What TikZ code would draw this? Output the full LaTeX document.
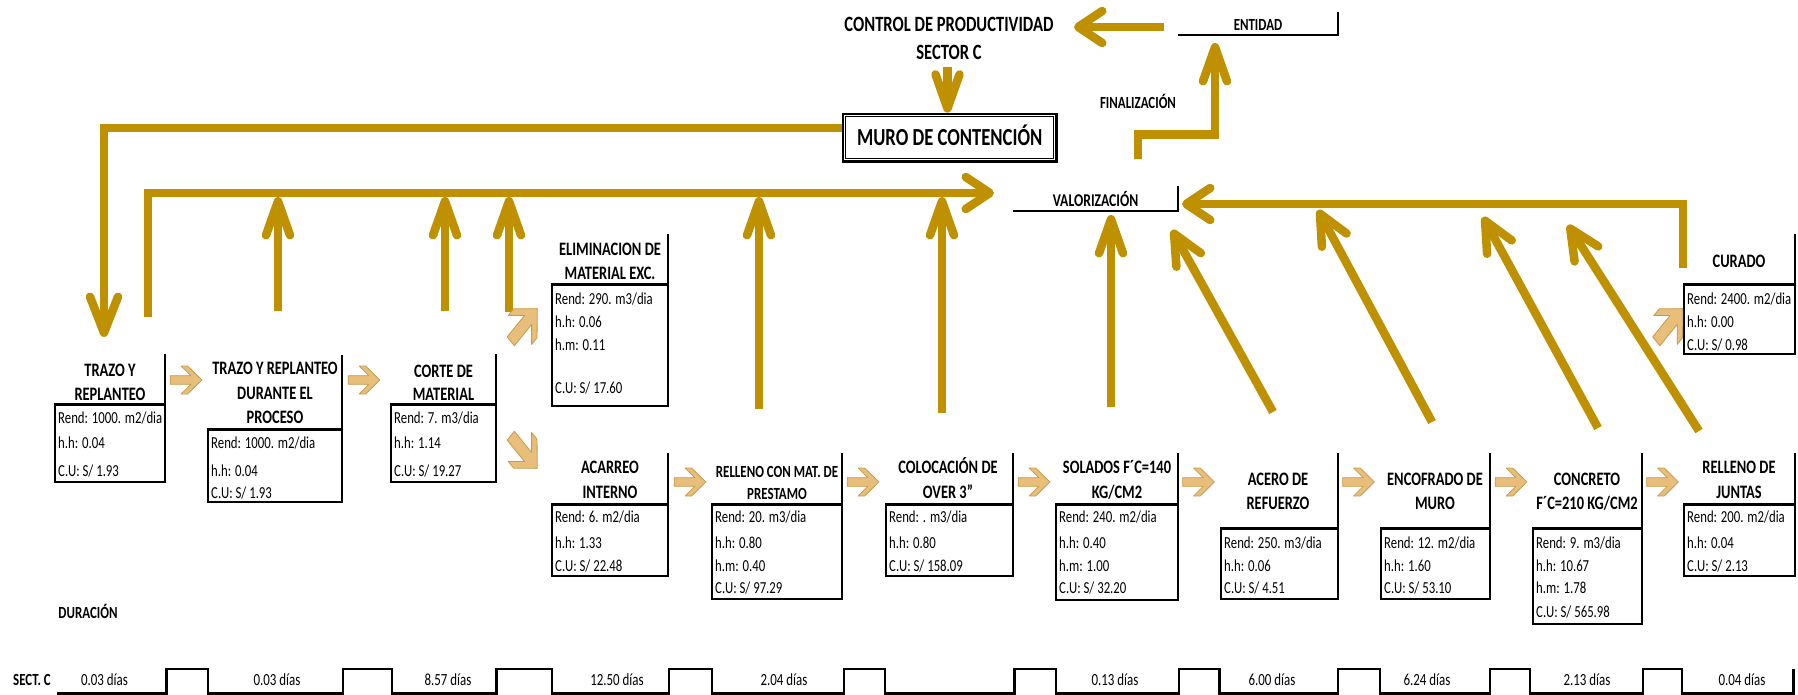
\documentclass[tikz,border=0pt]{standalone}
\usepackage{fontspec}
\setmainfont{Carlito}[FakeStretch=0.76]
\usetikzlibrary{arrows.meta}

\definecolor{gold}{HTML}{BF9000}
\definecolor{tanfill}{HTML}{E8BE7B}
\definecolor{tanedge}{HTML}{C99A4C}

\newcommand{\fbody}{\fontsize{16.8}{18}\selectfont}
\newcommand{\fhead}{\fontsize{19}{21}\selectfont\bfseries}
\newcommand{\flabel}{\fontsize{17}{19}\selectfont\bfseries}
\newcommand{\ftime}{\fontsize{17}{19}\selectfont}

% activity box: left, right, top of side rule, header rule, bottom
\newcommand{\actbox}[5]{%
  \draw[siderule] (#2,#3) -- (#2,#4);
  \draw[boxrule] (#1,#4) rectangle (#2,#5);
  \draw[boxheavy] (#1,#5) -- (#2,#5) -- (#2,#4);
  \draw[headrule] (#1,#4) -- (#2,#4);}

% block arrow between activities: centre x, centre y, transform
\newcommand{\chevron}[3]{%
  \draw[chev, shift={(#1,#2)}, #3]
    (-15.85,-4.3) -- (4.85,-4.3) -- (-4.85,-14) -- (1.65,-14) -- (15.85,0)
    -- (1.65,14) -- (-4.85,14) -- (4.85,4.3) -- (-15.85,4.3) -- cycle;}

\begin{document}
\begin{tikzpicture}[x=1pt, y=-1pt,
  flow/.style={draw=gold, line width=8.5pt},
  vtip/.style={-{Straight Barb[round,length=34pt,width=24pt]}},
  htip/.style={-{Straight Barb[round,length=24pt,width=32pt]}},
  dtip/.style={-{Straight Barb[round,length=30pt,width=28pt]}},
  siderule/.style={draw=black, line width=2.5pt},
  boxrule/.style={draw=black, line width=1.5pt},
  boxheavy/.style={draw=black, line width=2.6pt, line cap=rect},
  headrule/.style={draw=black, line width=3pt},
  lblrule/.style={draw=black, line width=2.5pt},
  timeline/.style={draw=black, line width=2.3pt},
  chev/.style={fill=tanfill, draw=tanedge, line width=0.8pt, line join=round},
  hdtxt/.style={font=\fhead, inner sep=0pt, text height=12.2pt, text depth=0pt},
  bdtxt/.style={font=\fbody, inner sep=0pt, anchor=west, text height=10.8pt, text depth=0pt},
  lbtxt/.style={font=\flabel, inner sep=0pt, text height=11pt, text depth=0pt},
  durtxt/.style={font=\ftime, inner sep=0pt, text height=11pt, text depth=0pt},
  titletxt/.style={font=\fontsize{21.8}{23}\selectfont\bfseries, inner sep=0pt, text height=14pt, text depth=0pt},
  murobox/.style={draw=black, line width=2.5pt, minimum width=213.5pt, minimum height=47.5pt,
    inner sep=0pt, font=\fontsize{24.5}{26}\selectfont\bfseries, text height=15.8pt, text depth=0pt}
]
\useasboundingbox[fill=white] (0,0) rectangle (1798,695);

% ---- titles and labels
\node[titletxt] (ctrl) at (949,25) {CONTROL DE PRODUCTIVIDAD};
\node[titletxt] (sect) at (949,53) {SECTOR C};
\node[murobox] (muro) at (949.7,137.7) {MURO DE CONTENCIÓN};
\draw[line width=1pt] ([shift={(4,4)}]muro.north west) rectangle ([shift={(-4,-4)}]muro.south east);
\node[lbtxt] (ent) at (1258,25) {ENTIDAD};
\draw[lblrule] (1178,35) -- (1338,35) -- (1338,12);
\node[lbtxt] (fin) at (1138,103) {FINALIZACIÓN};
\node[lbtxt, font=\fontsize{18}{20}\selectfont\bfseries, text height=11.6pt] (valor) at (1095.6,201) {VALORIZACIÓN};
\draw[lblrule] (1013,211) -- (1178,211) -- (1178,186);
\node[lbtxt] (dur) at (88,613) {DURACIÓN};
\node[lbtxt] (sectc) at (32,680) {SECT. C};

% ---- gold flow lines
\coordinate (entA) at (1164,27);
\coordinate (ctrlT) at (1074,27);
\draw[flow, htip] (entA) -- (ctrlT);
\coordinate (sectA) at (947.5,67);
\draw[flow, vtip] (sectA) -- (sectA |- muro.north);

\coordinate (loopA) at (842,128);
\coordinate (loopB) at (104,337);
\draw[flow, -{Straight Barb[round,length=36pt,width=28pt]}] (loopA) -| (loopB);

\coordinate (inA) at (148,317);
\coordinate (inB) at (994,193);
\draw[flow, htip] (inA) |- (inB);

\foreach \n/\x/\ya in {1/278/311, 2/445/311, 3/509/312, 4/759/409, 5/942/413}{
  \coordinate (up\n) at (\x,\ya);
  \coordinate (upt\n) at (\x,197);
  \draw[flow, vtip] (up\n) -- (upt\n);
}

\coordinate (finA) at (1138,159);
\coordinate (finB) at (1215,134.5);
\coordinate (finC) at (1215,43);
\draw[flow, vtip] (finA) |- (finB) -- (finC);

\coordinate (retA) at (1683,268);
\coordinate (retB) at (1182,204);
\draw[flow, htip] (retA) |- (retB);

\coordinate (solA) at (1111,407);
\coordinate (solB) at (1111,215);
\draw[flow, vtip] (solA) -- (solB);
\foreach \n/\xa/\ya/\xb/\yb in {1/1273/412/1172/230, 2/1432/422/1318/210,
    3/1598/428/1483/217, 4/1699/431/1568/225}{
  \coordinate (dg\n) at (\xa,\ya);
  \coordinate (dgt\n) at (\xb,\yb);
  \draw[flow, dtip] (dg\n) -- (dgt\n);
}

% ---- activity boxes
\actbox{55}{165}{354}{404}{482}
\node[hdtxt] (b1h1) at (110,370) {TRAZO Y};
\node[hdtxt] (b1h2) at (110,394) {REPLANTEO};
\node[bdtxt] (b1r1) at (58,418) {Rend: 1000. m2/dia};
\node[bdtxt] (b1r2) at (58,443) {h.h: 0.04};
\node[bdtxt] (b1r3) at (58,471) {C.U: S/ 1.93};

\actbox{208}{342}{355}{429}{502}
\node[hdtxt] (b2h1) at (275,368) {TRAZO Y REPLANTEO};
\node[hdtxt] (b2h2) at (275,393) {DURANTE EL};
\node[hdtxt] (b2h3) at (275,417) {PROCESO};
\node[bdtxt] (b2r1) at (211,443) {Rend: 1000. m2/dia};
\node[bdtxt] (b2r2) at (211,471) {h.h: 0.04};
\node[bdtxt] (b2r3) at (211,493) {C.U: S/ 1.93};

\actbox{391}{496}{354}{404}{482}
\node[hdtxt] (b3h1) at (443.5,371) {CORTE DE};
\node[hdtxt] (b3h2) at (443.5,394) {MATERIAL};
\node[bdtxt] (b3r1) at (394,418) {Rend: 7. m3/dia};
\node[bdtxt] (b3r2) at (394,443) {h.h: 1.14};
\node[bdtxt] (b3r3) at (394,471) {C.U: S/ 19.27};

\actbox{552}{668}{234}{284}{406}
\node[hdtxt] (b4h1) at (610,249) {ELIMINACION DE};
\node[hdtxt] (b4h2) at (610,273) {MATERIAL EXC.};
\node[bdtxt] (b4r1) at (555,299) {Rend: 290. m3/dia};
\node[bdtxt] (b4r2) at (555,322) {h.h: 0.06};
\node[bdtxt] (b4r3) at (555,345) {h.m: 0.11};
\node[bdtxt] (b4r4) at (555,388) {C.U: S/ 17.60};

\actbox{552}{668}{453}{504}{576}
\node[hdtxt] (b5h1) at (610,467) {ACARREO};
\node[hdtxt] (b5h2) at (610,492) {INTERNO};
\node[bdtxt] (b5r1) at (555,517) {Rend: 6. m2/dia};
\node[bdtxt] (b5r2) at (555,543) {h.h: 1.33};
\node[bdtxt] (b5r3) at (555,566) {C.U: S/ 22.48};

\actbox{712}{842}{453}{504}{599}
\node[hdtxt, font=\fontsize{17}{19}\selectfont\bfseries, text height=11pt] (b6h1) at (777,472) {RELLENO CON MAT. DE};
\node[hdtxt, font=\fontsize{17}{19}\selectfont\bfseries, text height=11pt] (b6h2) at (777,494) {PRESTAMO};
\node[bdtxt] (b6r1) at (715,517) {Rend: 20. m3/dia};
\node[bdtxt] (b6r2) at (715,543) {h.h: 0.80};
\node[bdtxt] (b6r3) at (715,566) {h.m: 0.40};
\node[bdtxt] (b6r4) at (715,588) {C.U: S/ 97.29};

\actbox{886}{1013}{453}{504}{576}
\node[hdtxt] (b7h1) at (948,467) {COLOCACIÓN DE};
\node[hdtxt] (b7h2) at (948,492) {OVER 3"};
\node[bdtxt] (b7r1) at (889,517) {Rend: . m3/dia};
\node[bdtxt] (b7r2) at (889,543) {h.h: 0.80};
\node[bdtxt] (b7r3) at (889,566) {C.U: S/ 158.09};

\actbox{1056}{1178}{453}{504}{600}
\node[hdtxt] (b8h1) at (1117,467) {SOLADOS F´C=140};
\node[hdtxt] (b8h2) at (1117,492) {KG/CM2};
\node[bdtxt] (b8r1) at (1059,517) {Rend: 240. m2/dia};
\node[bdtxt] (b8r2) at (1059,543) {h.h: 0.40};
\node[bdtxt] (b8r3) at (1059,566) {h.m: 1.00};
\node[bdtxt] (b8r4) at (1059,588) {C.U: S/ 32.20};

\actbox{1221}{1338}{453}{528}{599}
\node[hdtxt] (b9h1) at (1278,479) {ACERO DE};
\node[hdtxt] (b9h2) at (1278,503) {REFUERZO};
\node[bdtxt] (b9r1) at (1224,543) {Rend: 250. m3/dia};
\node[bdtxt] (b9r2) at (1224,566) {h.h: 0.06};
\node[bdtxt] (b9r3) at (1224,588) {C.U: S/ 4.51};

\actbox{1381}{1490}{453}{528}{599}
\node[hdtxt] (b10h1) at (1435,479) {ENCOFRADO DE};
\node[hdtxt] (b10h2) at (1435,503) {MURO};
\node[bdtxt] (b10r1) at (1384,543) {Rend: 12. m2/dia};
\node[bdtxt] (b10r2) at (1384,566) {h.h: 1.60};
\node[bdtxt] (b10r3) at (1384,588) {C.U: S/ 53.10};

\actbox{1533}{1642}{453}{528}{624}
\node[hdtxt] (b11h1) at (1587,479) {CONCRETO};
\node[hdtxt] (b11h2) at (1587,503) {F´C=210 KG/CM2};
\node[bdtxt] (b11r1) at (1536,543) {Rend: 9. m3/dia};
\node[bdtxt] (b11r2) at (1536,566) {h.h: 10.67};
\node[bdtxt] (b11r3) at (1536,588) {h.m: 1.78};
\node[bdtxt] (b11r4) at (1536,612) {C.U: S/ 565.98};

\actbox{1684}{1795}{453}{504}{576}
\node[hdtxt] (b12h1) at (1739,467) {RELLENO DE};
\node[hdtxt] (b12h2) at (1739,492) {JUNTAS};
\node[bdtxt] (b12r1) at (1687,517) {Rend: 200. m2/dia};
\node[bdtxt] (b12r2) at (1687,543) {h.h: 0.04};
\node[bdtxt] (b12r3) at (1687,566) {C.U: S/ 2.13};

\actbox{1684}{1795}{234}{284}{354}
\node[hdtxt] (b13h1) at (1739,261) {CURADO};
\node[bdtxt] (b13r1) at (1687,299) {Rend: 2400. m2/dia};
\node[bdtxt] (b13r2) at (1687,322) {h.h: 0.00};
\node[bdtxt] (b13r3) at (1687,345) {C.U: S/ 0.98};

% ---- block arrows between activities
\chevron{186}{380}{}
\chevron{364}{380}{}
\chevron{690}{482}{}
\chevron{863}{482}{}
\chevron{1034}{482}{}
\chevron{1198.5}{482}{}
\chevron{1358.5}{482}{}
\chevron{1511}{482}{}
\chevron{1662.5}{482}{}
\chevron{524}{325}{xscale=1.18, yscale=1.46, rotate=45}
\chevron{524}{452}{xscale=1.18, yscale=1.46, rotate=-45}
\chevron{1669.5}{325}{xscale=1.18, yscale=1.46, rotate=45}

% ---- duration strip
\draw[timeline] (57,693.5) -| (166.5,669) -| (208,693.5) -| (343,669) -| (392,693.5)
  -| (496.5,669) -| (552,693.5) -| (669,669) -| (712,693.5) -| (844,669) -| (885,693.5)
  -| (1014.5,669) -| (1056,693.5) -| (1179,669) -| (1219.6,693.5) -| (1338,669)
  -| (1380,693.5) -| (1490,669) -| (1530,693.5) -| (1643,669) -| (1682,693.5) -| (1793.5,669);
\foreach \n/\x/\t in {1/104.5/0.03, 2/277/0.03, 3/448/8.57, 4/617/12.50, 5/784/2.04,
    6/1115/0.13, 7/1272/6.00, 8/1427/6.24, 9/1587/2.13, 10/1742/0.04}{
  \node[durtxt] (d\n) at (\x,680) {\t\ días};
}
\end{tikzpicture}
\end{document}
